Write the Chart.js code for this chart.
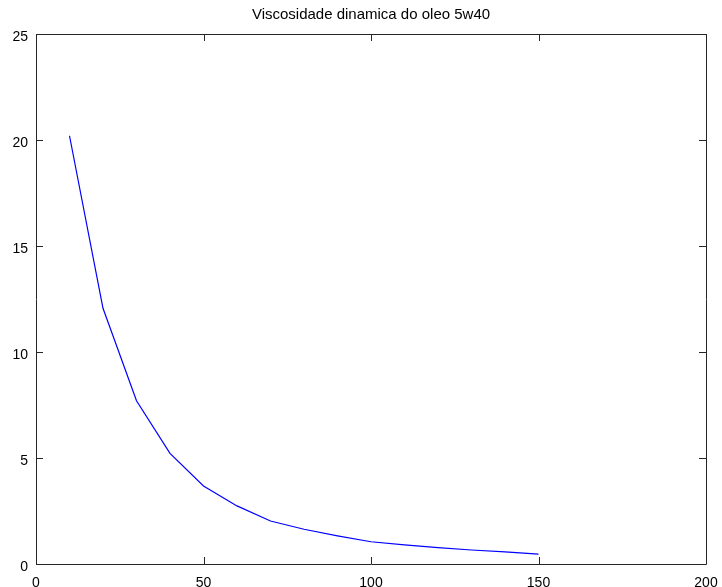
<!DOCTYPE html>
<html>
<head>
<meta charset="utf-8">
<script src="https://cdn.jsdelivr.net/npm/chart.js@4"></script>
<style>
  html, body { margin: 0; padding: 0; background: #fff; }
  #wrap { width: 722px; height: 587px; position: relative; }
</style>
</head>
<body>
<div id="wrap"><canvas id="chart"></canvas></div>
<script>
// temperatures (x) and dynamic viscosity (y)
const temperatures = [10, 20, 30, 40, 50, 60, 70, 80, 90, 100, 110, 120, 130, 140, 150]
const viscosity = [20.2, 12.06, 7.7, 5.22, 3.68, 2.74, 2.03, 1.64, 1.33, 1.05, 0.9, 0.77, 0.66, 0.57, 0.47]
const xTicks = [0, 50, 100, 150, 200]
const yTicks = [0, 5, 10, 15, 20, 25]
const titleText = "Viscosidade dinamica do oleo 5w40"

const FONT = "'Liberation Sans', Arial, Helvetica, sans-serif"

// box around the plot with small inward ticks on all four sides, title centred over the box
const framePlugin = {
    id: "frame",
    afterDraw(chart) {
        const ctx = chart.ctx
        const a = chart.chartArea
        const xs = chart.scales.x
        const ys = chart.scales.y
        const len = 7
        ctx.save()
        ctx.strokeStyle = "#262626"
        ctx.lineWidth = 1
        ctx.beginPath()
        ctx.rect(Math.round(a.left) + 0.5, Math.round(a.top) + 0.5,
                 Math.round(a.right - a.left), Math.round(a.bottom - a.top))
        xTicks.forEach((v) => {
            const px = Math.round(xs.getPixelForValue(v)) + 0.5
            ctx.moveTo(px, a.bottom)
            ctx.lineTo(px, a.bottom - len)
            ctx.moveTo(px, a.top)
            ctx.lineTo(px, a.top + len)
        })
        yTicks.forEach((v) => {
            const py = Math.round(ys.getPixelForValue(v)) + 0.5
            ctx.moveTo(a.left, py)
            ctx.lineTo(a.left + len, py)
            ctx.moveTo(a.right, py)
            ctx.lineTo(a.right - len, py)
        })
        ctx.stroke()

        ctx.fillStyle = "#000"
        ctx.font = "15px " + FONT
        ctx.textAlign = "center"
        ctx.textBaseline = "middle"
        ctx.fillText(titleText, (a.left + a.right) / 2, 15)
        ctx.restore()
    }
}

new Chart(document.getElementById("chart"), {
    type: "line",
    data: {
        datasets: [{
            label: "viscosidade",
            data: temperatures.map((t, i) => ({x: t, y: viscosity[i]})),
            borderColor: "rgb(0,0,255)",
            borderWidth: 1.2,
            pointRadius: 0,
            tension: 0,
            fill: false
        }]
    },
    options: {
        responsive: true,
        maintainAspectRatio: false,
        animation: false,
        layout: { padding: { left: 0, right: 16, top: 34, bottom: 0 } },
        plugins: {
            legend: { display: false },
            tooltip: { enabled: false },
            title: { display: false }
        },
        scales: {
            x: {
                type: "linear",
                min: 0,
                max: 200,
                afterBuildTicks: (scale) => { scale.ticks = xTicks.map((v) => ({value: v})) },
                afterFit: (scale) => {
                    scale.height = 23
                    scale.paddingLeft = 0
                    scale.paddingRight = 0
                },
                grid: { display: false, drawTicks: false },
                border: { display: false },
                ticks: {
                    color: "#000",
                    font: { family: FONT, size: 14 },
                    padding: 11,
                    maxRotation: 0
                }
            },
            y: {
                type: "linear",
                min: 0,
                max: 25,
                afterBuildTicks: (scale) => { scale.ticks = yTicks.map((v) => ({value: v})) },
                afterFit: (scale) => {
                    scale.width = 36
                    scale.paddingTop = 0
                    scale.paddingBottom = 0
                },
                grid: { display: false, drawTicks: false },
                border: { display: false },
                ticks: {
                    color: "#000",
                    font: { family: FONT, size: 14 },
                    padding: 8,
                    labelOffset: 3
                }
            }
        }
    },
    plugins: [framePlugin]
})
</script>
</body>
</html>
